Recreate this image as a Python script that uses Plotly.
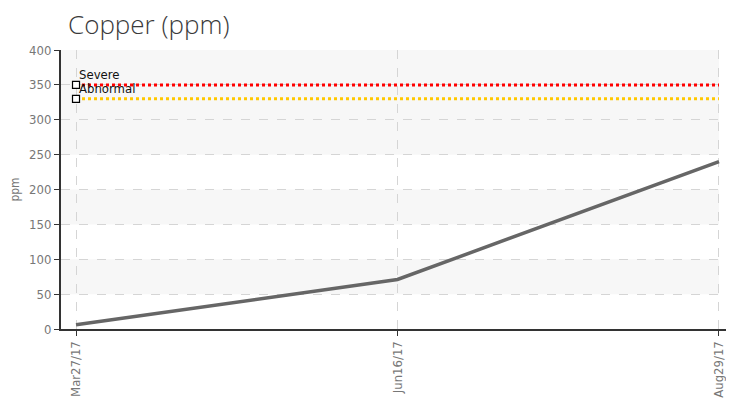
import plotly.graph_objects as go

dates = ["Mar27/17", "Jun16/17", "Aug29/17"]
copper = [6, 71, 240]
severe_level = 350
abnormal_level = 330
level_labels = ["Severe", "Abnormal"]
y_ticks = [0, 50, 100, 150, 200, 250, 300, 350, 400]
bands = [(50, 100), (150, 200), (250, 400)]

cond = "Liberation Sans Narrow, DejaVu Sans Condensed, sans-serif"
tick_font = dict(family=cond, size=13, color="#777")

# page body has an 8px default margin, so the figure is sized/offset accordingly
W, H, OFF = 734 - 8, 402 - 8, 8

fig = go.Figure()

for lo, hi in bands:
    fig.add_shape(type="rect", xref="x", yref="y", x0=-0.0467, x1=2, y0=lo, y1=hi,
                  fillcolor="#f7f7f7", line=dict(width=0), layer="below")

fig.add_trace(go.Scatter(x=dates, y=copper, mode="lines", line=dict(color="#666666", width=3.5)))
fig.add_trace(go.Scatter(x=[dates[0], dates[-1]], y=[severe_level, severe_level], mode="lines",
                         line=dict(color="#ff0000", width=3, dash="dot"), hoverinfo="skip"))
fig.add_trace(go.Scatter(x=[dates[0], dates[-1]], y=[abnormal_level, abnormal_level], mode="lines",
                         line=dict(color="#ffc800", width=3, dash="dot"), hoverinfo="skip"))
fig.add_trace(go.Scatter(x=[dates[0], dates[0]], y=[severe_level, abnormal_level], mode="markers",
                         marker=dict(symbol="square", size=7, color="#ffffff",
                                     line=dict(width=1.2, color="#000")),
                         hoverinfo="skip"))
for lbl, lvl in zip(level_labels, [severe_level, abnormal_level]):
    fig.add_annotation(x=dates[0], y=lvl, xref="x", yref="y", text=lbl, showarrow=False,
                       xanchor="left", yanchor="middle", xshift=1, yshift=10,
                       font=dict(family=cond, size=13, color="#111"))

fig.update_layout(
    width=W, height=H,
    margin=dict(l=61 - OFF, r=0, t=50 - OFF, b=73),
    paper_bgcolor="white", plot_bgcolor="white",
    showlegend=False,
    title=dict(text="Copper (ppm)", x=(68 - OFF) / W, xanchor="left", xref="container",
               y=1 - (25 - OFF) / H, yref="container", yanchor="middle",
               pad=dict(l=0, t=0, b=0, r=0),
               font=dict(family="Open Sans, sans-serif", size=26, color="#3a3a3a", weight=300)),
    xaxis=dict(type="category", categoryorder="array", categoryarray=dates,
               range=[-0.0467, 2.0467], showgrid=True, gridcolor="#d5d5d5",
               griddash="dash", gridwidth=1, showline=True, linecolor="#333", linewidth=2,
               ticks="outside", ticklen=5, tickcolor="#333", tickangle=-90, tickfont=tick_font,
               zeroline=False, automargin=False),
    yaxis=dict(range=[0, 400], tickvals=y_ticks, showgrid=True, gridcolor="#d5d5d5", griddash="dash",
               showline=True, linecolor="#333", linewidth=2, ticks="outside", ticklen=5,
               tickcolor="#333", tickfont=tick_font, zeroline=False, automargin=False,
               title=dict(text="ppm", font=dict(family=cond, size=12, color="#777"), standoff=8)),
)

fig.write_html("out.html")
